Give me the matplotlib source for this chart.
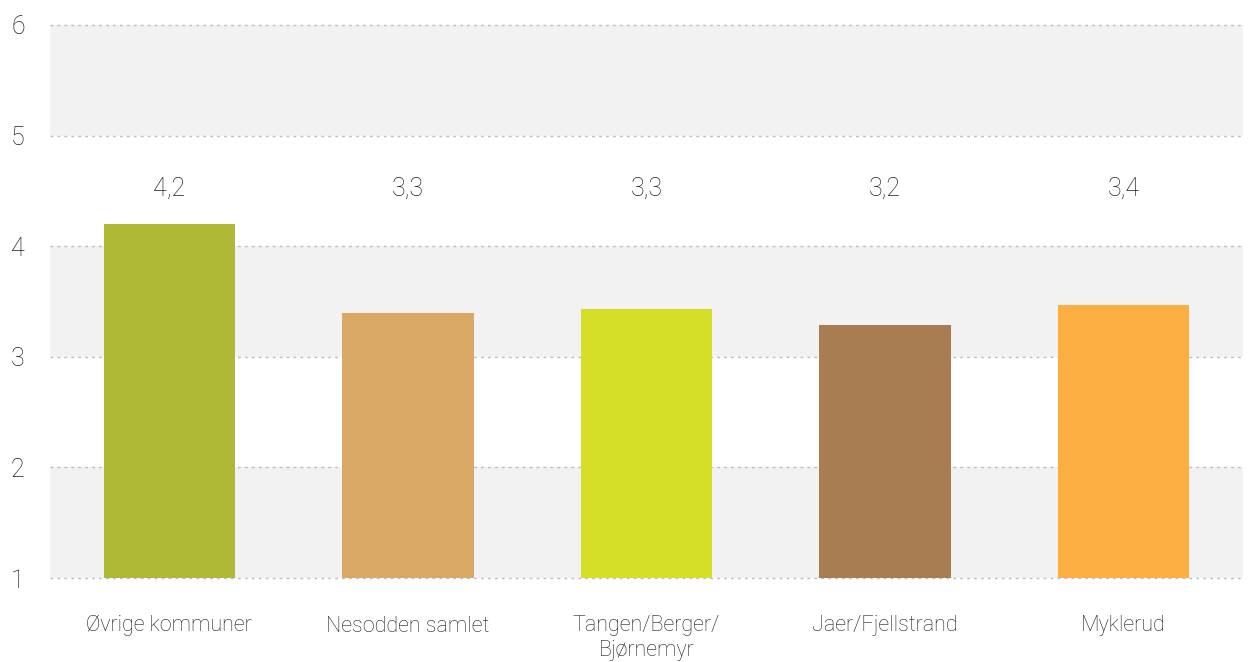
import matplotlib
matplotlib.use("Agg")
import matplotlib.pyplot as plt

categories = ["Øvrige kommuner", "Nesodden samlet", "Tangen/Berger/\nBjørnemyr", "Jaer/Fjellstrand", "Myklerud"]
bar_values = [4.2, 3.4, 3.43, 3.29, 3.47]
value_labels = ["4,2", "3,3", "3,3", "3,2", "3,4"]
bar_colors = ["#b0b935", "#d9a865", "#d6df27", "#a97d52", "#fbae42"]
y_ticks = [1, 2, 3, 4, 5, 6]
label_y = 4.52

plt.rcParams['font.family'] = ['Roboto', 'DejaVu Sans']
plt.rcParams['font.weight'] = 'light'
text_color = "#1e1e1e"

fig = plt.figure(figsize=(12.57, 6.62), dpi=100)
ax = fig.add_axes([50/1257, (662-578)/662, (1243-50)/1257, (578-25)/662])

ax.set_ylim(1, 6)
ax.set_xlim(-0.5, len(categories) - 0.5)

# alternating bands
for lo in [1, 3, 5]:
    ax.axhspan(lo, lo + 1, color="#f2f2f2", zorder=0, lw=0)
for t in y_ticks:
    ax.axhline(t, color="#bdbdbd", lw=1.0, ls=(0, (2, 3)), zorder=1, clip_on=False)

x = range(len(categories))
ax.bar(x, [v - 1 for v in bar_values], bottom=1, width=0.55, color=bar_colors, zorder=2)

for i, lab in enumerate(value_labels):
    ax.text(i, label_y, lab, ha="center", va="center", fontsize=18, color=text_color,
            fontweight="light")

ax.set_xticks(list(x))
ax.set_xticklabels(categories, fontsize=15.5, color=text_color, linespacing=1.2,
                   fontweight="light")
ax.set_yticks(y_ticks)
ax.set_yticklabels([str(t) for t in y_ticks], fontsize=18, color=text_color,
                   fontweight="light")
ax.tick_params(axis="x", length=0, pad=27)
ax.tick_params(axis="y", length=0, pad=28)
for lab in ax.get_yticklabels():
    lab.set_horizontalalignment("left")
for s in ax.spines.values():
    s.set_visible(False)

fig.savefig("out.png", dpi=100)
